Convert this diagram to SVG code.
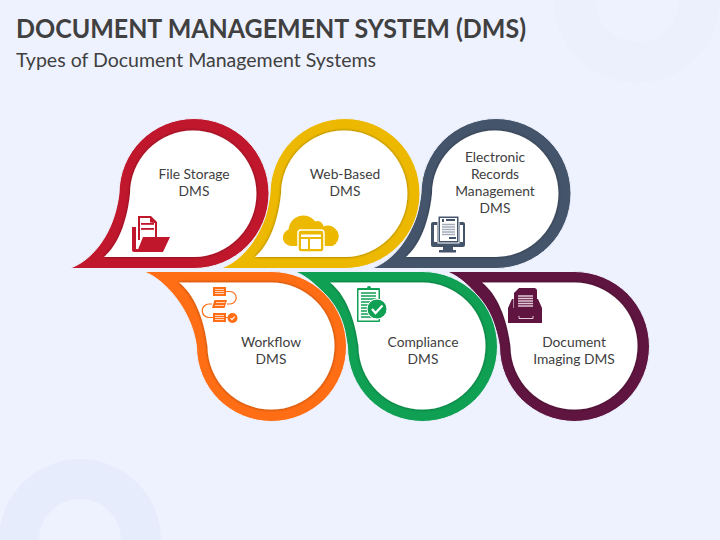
<svg xmlns="http://www.w3.org/2000/svg" width="720" height="540" viewBox="0 0 720 540">
<style>
text{font-family:"Lato","Noto Sans",sans-serif;fill:#404040}
.t{font-weight:700;font-size:26.5px}
.s{font-size:19.5px}
.l{font-size:13.8px;text-anchor:middle}
.ring{stroke:#eef2fe;stroke-width:1}
.in{fill:#fff;filter:url(#sh)}
.w{fill:#fff}
</style>
<defs>
<filter id="sh" x="-10%" y="-10%" width="120%" height="120%"><feDropShadow dx="0" dy="0" stdDeviation="1.400" flood-color="#000" flood-opacity=".45"/></filter>
<path id="ot" d="M69,268.500C90,262 114,236 119,193.500A75,75 0 1 1 194,268.500Z"/>
<path id="it" d="M104,257C118,245 127,222 130,194A63.200,63.200 0 1 1 194,257Z"/>
<path id="ob" d="M143,271.500C164,278 192,310 196.500,346.500A75,75 0 1 0 271.500,271.500Z"/>
<path id="ib" d="M179,282.500C194,294 204,318 207.500,346.500A63.500,63.500 0 1 0 271.500,282.500Z"/>
</defs>
<rect width="720" height="540" fill="#eef2fe"/>
<circle cx="637" cy="0" r="62.500" fill="none" stroke="#ecf0fd" stroke-width="41"/>
<circle cx="80" cy="540" r="61" fill="none" stroke="#e7ecfd" stroke-width="40"/>
<text class="t" x="16" y="38" textLength="510" lengthAdjust="spacingAndGlyphs">DOCUMENT MANAGEMENT SYSTEM (DMS)</text>
<text class="s" x="16" y="67" textLength="360" lengthAdjust="spacingAndGlyphs">Types of Document Management Systems</text>

<g id="node-records" transform="translate(302,0)">
<use href="#ot" class="ring" fill="#44546a"/><use href="#it" class="in"/>
<text class="l" x="193" y="162">Electronic</text><text class="l" x="193" y="179">Records</text><text class="l" x="193" y="196">Management</text><text class="l" x="193" y="213">DMS</text>
<g fill="#44546a">
<path d="M131,222h30a2,2 0 0 1 2,2v21a2,2 0 0 1-2,2h-30a2,2 0 0 1-2,-2v-21a2,2 0 0 1 2,-2z"/>
<rect x="141" y="247" width="10" height="3"/><rect x="137" y="250" width="17" height="2.500"/>
<rect x="136" y="216" width="21" height="27" stroke="#fff" stroke-width="1"/>
</g>
<g class="w"><rect x="132" y="225" width="3" height="17"/><rect x="158" y="225" width="3" height="17"/><rect x="138" y="218" width="17" height="23"/></g>
<g fill="#44546a"><rect x="140" y="219" width="2" height="3"/><rect x="144" y="219" width="9" height="2"/><rect x="147" y="237" width="7" height="2"/></g>
<path d="M140,224.500h13M140,227h13M140,229.500h13M140,232h13M140,234.500h13" stroke="#a4adb9" stroke-width="1.300"/>
</g>

<g id="node-web" transform="translate(151,0)">
<use href="#ot" class="ring" fill="#edb900"/><use href="#it" class="in"/>
<text class="l" x="194" y="179">Web-Based</text><text class="l" x="194" y="196">DMS</text>
<path d="M140,246a8.500,8.500 0 0 1-2.500,-16.500a15,15 0 0 1 27,-8a6,6 0 0 1 8,5a9,9 0 0 1 9,19.500z" fill="#edb900"/>
<rect x="147" y="230" width="26" height="22" rx="3" fill="#edb900" stroke="#fff" stroke-width="1.500"/>
<path d="M150,234.500h20v2.500h-20zM150,239h7v10h-7zM159,239h11v10h-11z" fill="#fff"/>
</g>

<g id="node-file">
<use href="#ot" class="ring" fill="#c0172c"/><use href="#it" class="in"/>
<text class="l" x="194" y="179">File Storage</text><text class="l" x="194" y="196">DMS</text>
<g fill="#c0172c">
<path d="M132,227h4v22h3v3h-5a2,2 0 0 1-2,-2z"/>
<path d="M138,216h13l6,6v16h-2v-15l-5,-0.500v-4.500h-10v22h-2z"/>
<path d="M143,237h27l-7,15h-26z"/>
<rect x="141" y="223" width="13" height="1.800"/><rect x="141" y="228" width="13" height="1.800"/>
</g>
</g>

<g id="node-imaging" transform="translate(303,0)">
<use href="#ob" class="ring" fill="#5f1540"/><use href="#ib" class="in"/>
<text class="l" x="271" y="347">Document</text><text class="l" x="271" y="364">Imaging DMS</text>
<g fill="#5f1540">
<path d="M211,288h20a3,3 0 0 1 3,3v17h-23z"/>
<path d="M205,323v-15l4,-9h1.500v9h23v-9h1.500l4,9v15z"/>
</g>
<path d="M211,288v5l5,-5z" class="w"/>
<path d="M215,296h15M215,298.500h15M215,301h15M215,303.500h15M215,306h15" stroke="#e2c9d6" stroke-width="1.300"/>
<path d="M216,316v2.500h14v-2.500" fill="none" stroke="#e2c9d6" stroke-width="1"/>
</g>

<g id="node-compliance" transform="translate(151,0)">
<use href="#ob" class="ring" fill="#0fa054"/><use href="#ib" class="in"/>
<text class="l" x="272" y="347">Compliance</text><text class="l" x="272" y="364">DMS</text>
<g fill="#0fa054">
<rect x="206" y="288" width="23" height="34" rx="1"/>
<path d="M211,290v-2h5a2,2 0 0 1 4,0h5v2z"/>
</g>
<rect x="207.500" y="290" width="20" height="30.500" fill="#fff"/>
<path d="M210,293h15M210,296h15M210,299h15M210,302h15M210,305h15M210,308h15M210,311h15M210,314h15M210,317h15" stroke="#0fa054" stroke-width="1.300"/>
<circle cx="226" cy="309" r="10" fill="#0fa054" stroke="#fff" stroke-width="1"/>
<path d="M221,309l3.500,4l7,-7.500" fill="none" stroke="#fff" stroke-width="2.200"/>
</g>

<g id="node-workflow">
<use href="#ob" class="ring" fill="#ff6d14"/><use href="#ib" class="in"/>
<text class="l" x="271" y="347">Workflow</text><text class="l" x="271" y="364">DMS</text>
<g fill="none" stroke="#ff6d14" stroke-width="1.200">
<path d="M226,291.500h4a6,6 0 0 1 0,12.500h-3"/>
<path d="M212,304h-3a6,6 0 0 0 0,13.500h4"/>
<path d="M226,317.500h2"/>
</g>
<g fill="#ff6d14">
<rect x="213" y="287" width="13" height="9"/>
<path d="M214.500,300h12.500l-2.500,8h-12.500z"/>
<rect x="213" y="313" width="13" height="9"/>
<circle cx="232.500" cy="318" r="5"/>
</g>
<path d="M215,289.500h9M215,291.500h9M215,293.500h9M216,302.500h9M215,305.500h9M215,315.500h9M215,317.500h9M215,319.500h9" stroke="#ffd3b8" stroke-width="1"/>
<path d="M230.500,318l1.500,1.700l2.700,-3" fill="none" stroke="#fff" stroke-width="1.100"/>
</g>
</svg>
